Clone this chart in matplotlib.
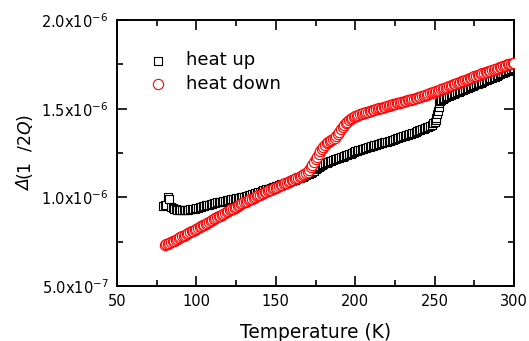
import numpy as np
import matplotlib
matplotlib.use("Agg")
import matplotlib.pyplot as plt
from matplotlib.ticker import MultipleLocator, FixedLocator, FixedFormatter

plt.rcParams['font.family'] = ['DejaVu Sans']
plt.rcParams['mathtext.fontset'] = 'custom'
plt.rcParams['mathtext.rm'] = 'DejaVu Sans'
plt.rcParams['mathtext.it'] = 'DejaVu Sans:italic'

# heat up (units of 1e-6)
T_up = [79, 80, 81, 82, 83, 84, 85, 86, 87, 88, 89, 90, 91, 92, 93, 94, 95, 96, 97, 98, 99,
        100, 101, 102, 103, 104, 105, 106, 107, 108, 109, 110, 111, 112, 113, 114, 115, 116,
        117, 118, 119, 120, 121, 122, 123, 124, 125, 126, 127, 128, 129, 130, 131, 132, 133,
        134, 135, 136, 137, 138, 139, 140, 141, 142, 143, 144, 145, 146, 147, 148, 149, 150,
        151, 152, 153, 154, 155, 156, 157, 158, 159, 160, 161, 162, 163, 164, 165, 166, 167,
        168, 169, 170, 171, 172, 173, 174, 175, 176, 177, 178, 179, 180, 181, 182, 183, 184,
        185, 186, 187, 188, 189, 190, 191, 192, 193, 194, 195, 196, 197, 198, 199, 200, 201,
        202, 203, 204, 205, 206, 207, 208, 209, 210, 211, 212, 213, 214, 215, 216, 217, 218,
        219, 220, 221, 222, 223, 224, 225, 226, 227, 228, 229, 230, 231, 232, 233, 234, 235,
        236, 237, 238, 239, 240, 241, 242, 243, 244, 245, 246, 247, 248, 249, 250, 250.5, 251,
        251.5, 252, 252.5, 253, 253.5, 254, 255, 256, 257, 258, 259, 260, 261, 262, 263, 264,
        265, 266, 267, 268, 269, 270, 271, 272, 273, 274, 275, 276, 277, 278, 279, 280, 281,
        282, 283, 284, 285, 286, 287, 288, 289, 290, 291, 292, 293, 294, 295, 296, 297, 298,
        299, 300]
Q_up = [0.95, 0.955, 0.96, 1.00, 0.99, 0.945, 0.94, 0.935, 0.932, 0.93, 0.93, 0.93, 0.928,
        0.93, 0.93, 0.93, 0.931, 0.932, 0.933, 0.935, 0.937,
        0.94, 0.942, 0.945, 0.947, 0.95, 0.952, 0.955, 0.958, 0.96, 0.963, 0.965, 0.968,
        0.97, 0.972, 0.973, 0.975, 0.977, 0.978, 0.98, 0.983, 0.985, 0.988, 0.99, 0.992,
        0.993, 0.995, 0.997, 0.998, 1.00, 1.003, 1.005, 1.008, 1.01, 1.013, 1.015, 1.018,
        1.02, 1.024, 1.027, 1.03, 1.033, 1.037, 1.04, 1.043, 1.045, 1.048, 1.05, 1.054,
        1.057, 1.06, 1.063, 1.067, 1.07, 1.073, 1.075, 1.078, 1.08, 1.084, 1.087, 1.09,
        1.093, 1.097, 1.10, 1.104, 1.107, 1.111, 1.115, 1.118, 1.12, 1.125, 1.13, 1.135,
        1.14, 1.145, 1.15, 1.158, 1.165, 1.172, 1.18, 1.185, 1.19, 1.194, 1.197, 1.201,
        1.205, 1.208, 1.21, 1.214, 1.217, 1.22, 1.223, 1.227, 1.23, 1.234, 1.237, 1.24,
        1.243, 1.247, 1.25, 1.255, 1.26, 1.262, 1.265, 1.268, 1.272, 1.275, 1.278, 1.28,
        1.283, 1.287, 1.29, 1.292, 1.295, 1.298, 1.30, 1.302, 1.305, 1.308, 1.31, 1.312,
        1.315, 1.318, 1.32, 1.323, 1.326, 1.33, 1.333, 1.337, 1.34, 1.342, 1.345, 1.348,
        1.35, 1.353, 1.356, 1.359, 1.362, 1.366, 1.37, 1.374, 1.378, 1.381, 1.385, 1.388,
        1.392, 1.396, 1.40, 1.405, 1.41, 1.417, 1.425, 1.435, 1.45, 1.47, 1.49, 1.51, 1.53,
        1.545, 1.55, 1.555, 1.56, 1.565, 1.57, 1.574, 1.577, 1.581, 1.585, 1.588, 1.592,
        1.596, 1.60, 1.604, 1.607, 1.611, 1.615, 1.618, 1.622, 1.626, 1.63, 1.633, 1.637,
        1.641, 1.645, 1.648, 1.652, 1.656, 1.66, 1.663, 1.667, 1.671, 1.675, 1.678, 1.682,
        1.686, 1.69, 1.695, 1.70, 1.703, 1.707, 1.711, 1.715, 1.718, 1.722, 1.726, 1.73]

# heat down (units of 1e-6)
T_down = [80, 81, 82, 83, 84, 85, 86, 87, 88, 89, 90, 91, 92, 93, 94, 95, 96, 97, 98, 99,
          100, 101, 102, 103, 104, 105, 106, 107, 108, 109, 110, 111, 112, 113, 114, 115, 116,
          117, 118, 119, 120, 121, 122, 123, 124, 125, 126, 127, 128, 129, 130, 131, 132, 133,
          134, 135, 136, 137, 138, 139, 140, 141, 142, 143, 144, 145, 146, 147, 148, 149, 150,
          151, 152, 153, 154, 155, 156, 157, 158, 159, 160, 161, 162, 163, 164, 165, 166, 167,
          168, 169, 170, 171, 172, 173, 174, 175, 176, 177, 178, 179, 180, 181, 182, 183, 184,
          185, 186, 187, 188, 189, 190, 191, 192, 193, 194, 195, 196, 197, 198, 199, 200, 201,
          202, 203, 204, 205, 206, 207, 208, 209, 210, 211, 212, 213, 214, 215, 216, 217, 218,
          219, 220, 221, 222, 223, 224, 225, 226, 227, 228, 229, 230, 231, 232, 233, 234, 235,
          236, 237, 238, 239, 240, 241, 242, 243, 244, 245, 246, 247, 248, 249, 250, 251, 252,
          253, 254, 255, 256, 257, 258, 259, 260, 261, 262, 263, 264, 265, 266, 267, 268, 269,
          270, 271, 272, 273, 274, 275, 276, 277, 278, 279, 280, 281, 282, 283, 284, 285, 286,
          287, 288, 289, 290, 291, 292, 293, 294, 295, 296, 297, 298, 299, 300]
Q_down = [0.73, 0.735, 0.74, 0.744, 0.748, 0.752, 0.757, 0.761, 0.765, 0.77, 0.775, 0.78,
          0.785, 0.79, 0.795, 0.799, 0.803, 0.808, 0.812, 0.817,
          0.822, 0.827, 0.832, 0.837, 0.842, 0.847, 0.852, 0.857, 0.862, 0.867, 0.872,
          0.877, 0.882, 0.888, 0.893, 0.898, 0.903, 0.908, 0.913, 0.918, 0.923, 0.928,
          0.932, 0.937, 0.942, 0.947, 0.952, 0.957, 0.962, 0.967, 0.972, 0.976, 0.98,
          0.985, 0.99, 0.994, 0.998, 1.003, 1.007, 1.011, 1.015, 1.019, 1.023, 1.028,
          1.032, 1.036, 1.04, 1.044, 1.048, 1.052, 1.056, 1.06, 1.064, 1.068, 1.072,
          1.076, 1.08, 1.084, 1.088, 1.092, 1.096, 1.10, 1.104, 1.108, 1.112, 1.116, 1.12,
          1.125, 1.13, 1.137, 1.145, 1.157, 1.17, 1.185, 1.20, 1.215, 1.23, 1.245, 1.26,
          1.273, 1.285, 1.295, 1.305, 1.313, 1.32, 1.325, 1.33, 1.337, 1.345, 1.357, 1.37,
          1.385, 1.40, 1.41, 1.42, 1.428, 1.435, 1.441, 1.447, 1.452, 1.457, 1.461, 1.465,
          1.469, 1.472, 1.475, 1.478, 1.481, 1.484, 1.487, 1.49, 1.492, 1.495, 1.497, 1.50,
          1.502, 1.505, 1.507, 1.51, 1.512, 1.515, 1.517, 1.52, 1.522, 1.525, 1.527, 1.53,
          1.532, 1.535, 1.537, 1.54, 1.542, 1.545, 1.547, 1.55, 1.552, 1.555, 1.557, 1.56,
          1.562, 1.565, 1.567, 1.57, 1.573, 1.577, 1.58, 1.584, 1.587, 1.59, 1.594, 1.597,
          1.60, 1.603, 1.607, 1.61, 1.614, 1.617, 1.62, 1.623, 1.627, 1.63, 1.634, 1.637,
          1.64, 1.643, 1.647, 1.65, 1.654, 1.657, 1.661, 1.665, 1.668, 1.672, 1.676, 1.679,
          1.683, 1.686, 1.689, 1.692, 1.696, 1.70, 1.703, 1.706, 1.709, 1.712, 1.715, 1.718,
          1.721, 1.724, 1.727, 1.73, 1.734, 1.737, 1.74, 1.743, 1.747, 1.75, 1.752, 1.755,
          1.758, 1.76]

y_ticks = [5e-7, 1.0e-6, 1.5e-6, 2.0e-6]
y_tick_labels = [r"5.0x10$^{-7}$", r"1.0x10$^{-6}$", r"1.5x10$^{-6}$", r"2.0x10$^{-6}$"]
x_ticks = [50, 100, 150, 200, 250, 300]

W, H = 529, 341
fig = plt.figure(figsize=(W / 100, H / 100), dpi=100)
ax = fig.add_axes([0.221, 0.161, 0.751, 0.780])

ax.scatter(T_up, np.array(Q_up) * 1e-6, marker='s', s=32, facecolors='white',
           edgecolors='black', linewidths=0.8, label='heat up', zorder=2)
ax.scatter(T_down, np.array(Q_down) * 1e-6, marker='o', s=55, facecolors='white',
           edgecolors='#ff0000', linewidths=0.8, label='heat down', zorder=3)

ax.set_xlim(50, 300)
ax.set_ylim(5e-7, 2e-6)
ax.xaxis.set_major_locator(FixedLocator(x_ticks))
ax.xaxis.set_minor_locator(MultipleLocator(25))
ax.yaxis.set_major_locator(FixedLocator(y_ticks))
ax.yaxis.set_major_formatter(FixedFormatter(y_tick_labels))
ax.yaxis.set_minor_locator(MultipleLocator(2.5e-7))

ax.tick_params(which='both', direction='in', top=True, right=True, width=1.2,
               labelsize=10.5, colors='black')
ax.tick_params(which='major', length=7, pad=6)
ax.tick_params(which='minor', length=4)
for s in ax.spines.values():
    s.set_linewidth(1.4)

ax.set_xlabel('Temperature (K)', fontsize=13.4, labelpad=10)

# y label: italic Delta followed by "(1 /2Q)" with italic Q
fig.text(25 / W, 1 - 185 / H, "\u0394", rotation=90, fontstyle='italic',
         fontsize=12.5, ha='center', va='center')
fig.text(25 / W, 1 - 147 / H, "(1  /2$\\mathit{Q}$)", rotation=90,
         fontsize=12.5, ha='center', va='center')

leg = ax.legend(loc='upper left', bbox_to_anchor=(0.057, 0.91), frameon=False,
                fontsize=13, handletextpad=1.0, labelspacing=0.3,
                borderaxespad=0, handlelength=1.2)

fig.savefig('out.png', dpi=100)
